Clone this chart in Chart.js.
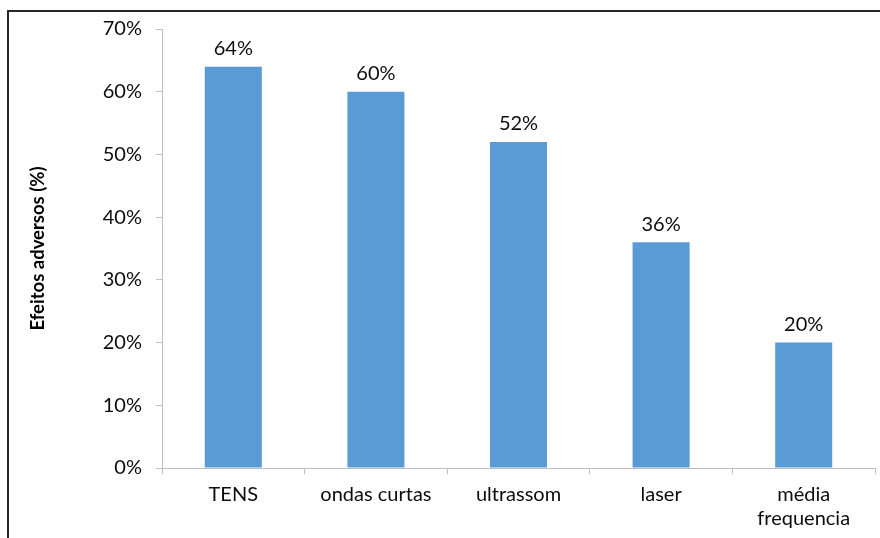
<!DOCTYPE html>
<html>
<head>
<meta charset="utf-8">
<script src="https://cdn.jsdelivr.net/npm/chart.js@4"></script>
<style>
  body { margin: 0; background: #fff; }
  #frame { position: absolute; left: 7px; top: 10px; width: 880px; height: 540px;
    border-left: 2px solid #262626; border-top: 2px solid #262626; }
  #wrap { position: absolute; left: 0; top: 3px; width: 880px; height: 535px; }
</style>
</head>
<body>
<div id="frame"></div>
<div id="wrap"><canvas id="chart"></canvas></div>
<script>
const categories = ['TENS', 'ondas curtas', 'ultrassom', 'laser', ['média', 'frequencia']];
const adverseEffects = [64, 60, 52, 36, 20];
const yTicks = [0, 10, 20, 30, 40, 50, 60, 70];

const FONT = 'Lato, "Open Sans", sans-serif';

// labels above the bars, Excel style
const barLabels = {
  id: 'barLabels',
  afterDatasetsDraw(chart) {
    const ctx = chart.ctx;
    const meta = chart.getDatasetMeta(0);
    ctx.save();
    ctx.font = '20px ' + FONT;
    ctx.fillStyle = '#0d0d0d';
    ctx.textAlign = 'center';
    ctx.textBaseline = 'bottom';
    meta.data.forEach((bar, i) => {
      ctx.fillText(adverseEffects[i] + '%', bar.x, bar.y - 8);
    });
    ctx.restore();
  }
};

const ctx = document.getElementById('chart').getContext('2d');
new Chart(ctx, {
  type: 'bar',
  data: {
    labels: categories,
    datasets: [{
      data: adverseEffects,
      backgroundColor: '#5B9BD5',
      borderWidth: 0,
      categoryPercentage: 1,
      barPercentage: 0.4
    }]
  },
  options: {
    responsive: true,
    maintainAspectRatio: false,
    animation: false,
    layout: { padding: { top: 26, right: 5, left: 27, bottom: 0 } },
    plugins: {
      legend: { display: false },
      tooltip: { enabled: false }
    },
    scales: {
      x: {
        grid: { display: true, drawOnChartArea: false, drawTicks: true, tickLength: 6, color: '#BFBFBF' },
        border: { color: '#BFBFBF', width: 1 },
        ticks: { color: '#0d0d0d', font: { family: FONT, size: 20 }, padding: 9, maxRotation: 0 },
        afterFit(scale) { scale.height = 70; }
      },
      y: {
        min: 0,
        max: 70,
        afterBuildTicks(scale) { scale.ticks = yTicks.map(v => ({ value: v })); },
        grid: { display: true, drawOnChartArea: false, drawTicks: true, tickLength: 6, color: '#BFBFBF' },
        border: { color: '#BFBFBF', width: 1 },
        ticks: { color: '#0d0d0d', font: { family: FONT, size: 20 }, padding: 14,
          callback: v => v + '%' },
        title: { display: true, text: 'Efeitos adversos (%)', color: '#000',
          font: { family: FONT, size: 18.5, weight: 'bold' }, padding: { top: 0, bottom: 0 } },
        afterFit(scale) { scale.width = 135; }
      }
    }
  },
  plugins: [barLabels]
});
</script>
</body>
</html>
